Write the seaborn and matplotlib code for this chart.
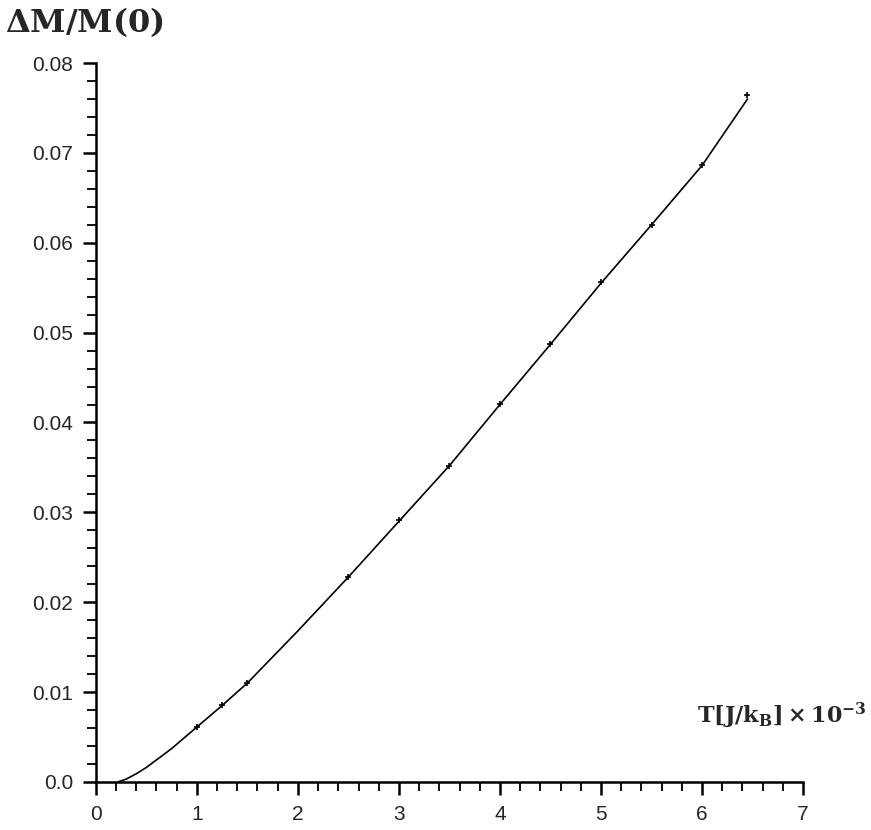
import matplotlib
matplotlib.use("Agg")
import matplotlib.pyplot as plt
import seaborn as sns
import pandas as pd
from matplotlib.ticker import MultipleLocator, FixedLocator, FixedFormatter

sns.set_theme(style="white")
plt.rcParams['font.family'] = ['Liberation Sans', 'DejaVu Sans']
plt.rcParams['mathtext.fontset'] = 'custom'
plt.rcParams['mathtext.rm'] = 'DejaVu Serif:bold'
plt.rcParams['mathtext.bf'] = 'DejaVu Serif:bold'
plt.rcParams['mathtext.it'] = 'DejaVu Serif:bold'

# curve
curve_T = [0.22, 0.3, 0.4, 0.5, 0.75, 1.0, 1.25, 1.5, 2.0, 2.5, 3.0, 3.5, 4.0, 4.5, 5.0, 5.5, 6.0, 6.45]
curve_M = [0.0, 0.0003, 0.0009, 0.0016, 0.0037, 0.0061, 0.0085, 0.0110, 0.0168, 0.0228, 0.0290, 0.0352, 0.0420, 0.0487, 0.0555, 0.0620, 0.0686, 0.0760]
# simulation points
pts_T = [1.0, 1.25, 1.5, 2.5, 3.0, 3.5, 4.0, 4.5, 5.0, 5.5, 6.0, 6.45]
pts_M = [0.0061, 0.0085, 0.0110, 0.0228, 0.0291, 0.0352, 0.0421, 0.0487, 0.0556, 0.0620, 0.0687, 0.0764]

x_ticks = [0, 1, 2, 3, 4, 5, 6, 7]
y_ticks = [0.0, 0.01, 0.02, 0.03, 0.04, 0.05, 0.06, 0.07, 0.08]
y_labels = ["0.0", "0.01", "0.02", "0.03", "0.04", "0.05", "0.06", "0.07", "0.08"]

df_c = pd.DataFrame({"T": curve_T, "M": curve_M})
df_p = pd.DataFrame({"T": pts_T, "M": pts_M})

fig = plt.figure(figsize=(8.71, 8.30), dpi=100)
ax = fig.add_axes([0.110, 0.058, 0.812, 0.866])
sns.lineplot(data=df_c, x="T", y="M", ax=ax, color="black", lw=1.2)
sns.scatterplot(data=df_p, x="T", y="M", ax=ax, color="black", marker="+", s=14, linewidth=1.2)

ax.set_xlim(0, 7)
ax.set_ylim(0, 0.08)
ax.xaxis.set_major_locator(FixedLocator(x_ticks))
ax.xaxis.set_minor_locator(MultipleLocator(0.2))
ax.yaxis.set_major_locator(FixedLocator(y_ticks))
ax.yaxis.set_major_formatter(FixedFormatter(y_labels))
ax.yaxis.set_minor_locator(MultipleLocator(0.002))
ax.tick_params(which="major", direction="out", length=9.5, width=1.8, labelsize=15, color="black", bottom=True, left=True)
ax.tick_params(which="minor", direction="out", length=6.5, width=1.3, color="black", bottom=True, left=True)
ax.tick_params(axis="x", pad=7)
ax.tick_params(axis="y", pad=7)
for s in ["top", "right"]:
    ax.spines[s].set_visible(False)
for s in ["left", "bottom"]:
    ax.spines[s].set_color("black")
    ax.spines[s].set_linewidth(1.8)
ax.set_xlabel("")
ax.set_ylabel("")

fig.text(0.006, 0.973, r"$\mathbf{\Delta M/M(0)}$", fontsize=23, ha="left", va="center")
fig.text(0.995, 0.138, r"$\mathbf{T[J/k_B]\times10^{-3}}$", fontsize=16, ha="right", va="center")

fig.savefig("out.png", dpi=100)
